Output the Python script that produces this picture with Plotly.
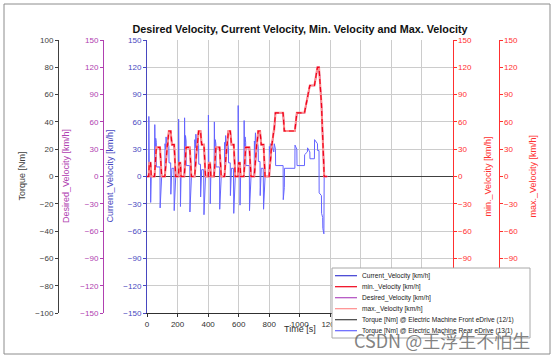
import plotly.graph_objects as go

W, H = 554, 358

# ---------------- data ----------------
# NEDC-like desired velocity profile (breakpoints)
time_s = [
    0, 11, 15, 23, 25, 28, 49, 54, 56, 61, 85, 93, 96, 117, 122, 124, 133, 135, 143, 155, 163, 176, 178, 185, 188,
    195, 206, 210, 218, 220, 223, 244, 249, 251, 256, 280, 288, 291, 312, 317, 319, 328, 330, 338, 350, 358, 371, 373, 380, 383,
    390, 401, 405, 413, 415, 418, 439, 444, 446, 451, 475, 483, 486, 507, 512, 514, 523, 525, 533, 545, 553, 566, 568, 575, 578,
    585, 596, 600, 608, 610, 613, 634, 639, 641, 646, 670, 678, 681, 702, 707, 709, 718, 720, 728, 740, 748, 761, 763, 770, 773,
    780, 800, 805, 807, 816, 818, 830, 832, 841, 891, 899, 968, 981, 1031, 1066, 1096, 1116, 1126, 1142, 1150, 1160, 1180,
]
desired_kmh = [
    0, 0, 15, 15, 10, 0, 0, 15, 15, 32, 32, 10, 0, 0, 15, 15, 35, 35, 50, 50, 35, 35, 35, 10, 0,
    0, 0, 15, 15, 10, 0, 0, 15, 15, 32, 32, 10, 0, 0, 15, 15, 35, 35, 50, 50, 35, 35, 35, 10, 0,
    0, 0, 15, 15, 10, 0, 0, 15, 15, 32, 32, 10, 0, 0, 15, 15, 35, 35, 50, 50, 35, 35, 35, 10, 0,
    0, 0, 15, 15, 10, 0, 0, 15, 15, 32, 32, 10, 0, 0, 15, 15, 35, 35, 50, 50, 35, 35, 35, 10, 0,
    0, 0, 15, 15, 35, 35, 50, 50, 70, 70, 50, 50, 70, 70, 100, 100, 120, 120, 80, 50, 0, 0,
]
# min / max / current velocity coincide with the desired profile at this resolution
min_kmh = list(desired_kmh)
max_kmh = list(desired_kmh)
current_kmh = list(desired_kmh)

torque_time_s = [
    0, 11, 12, 15, 23, 24, 28, 49, 51, 54, 57, 61, 62, 85, 86, 96, 117, 118, 122, 125, 133, 136, 143, 144, 155, 156, 163, 176, 178, 188,
    195, 206, 207, 210, 218, 219, 223, 244, 246, 249, 252, 256, 257, 280, 281, 291, 312, 313, 317, 320, 328, 331, 338, 339, 350, 351, 358, 371, 373, 383,
    390, 401, 402, 405, 413, 414, 418, 439, 441, 444, 447, 451, 452, 475, 476, 486, 507, 508, 512, 515, 523, 526, 533, 534, 545, 546, 553, 566, 568, 578,
    585, 596, 597, 600, 608, 609, 613, 634, 636, 639, 642, 646, 647, 670, 671, 681, 702, 703, 707, 710, 718, 721, 728, 729, 740, 741, 748, 761, 763, 773,
    780, 800, 801, 805, 808, 816, 819, 830, 833, 841, 842, 891, 892, 899, 900, 968, 969, 981, 982, 1031, 1032, 1050, 1051, 1066, 1067, 1096, 1097,
    1116, 1117, 1126, 1127, 1142, 1143, 1150, 1151, 1158, 1160, 1180,
]
torque_rear_nm = [
    0, 0, 44, 6, 6, -19, 0, 0, 38, 12, 28, 25, 7, 7, -23, 0, 0, 24, 20, 29, 18, 26, 22, 10, 10, -13, 6, 6, -25, 0,
    0, 0, 42, 5, 5, -22, 0, 0, 43, 14, 30, 26, 8, 8, -26, 0, 0, 27, 21, 31, 19, 25, 23, 9, 9, -15, 5, 5, -28, 0,
    0, 0, 45, 7, 7, -20, 0, 0, 40, 13, 27, 24, 7, 7, -24, 0, 0, 25, 19, 30, 17, 27, 21, 10, 10, -14, 6, 6, -27, 0,
    0, 0, 52, 6, 6, -21, 0, 0, 41, 12, 29, 25, 8, 8, -25, 0, 0, 26, 20, 32, 18, 26, 22, 11, 11, -14, 6, 6, -24, 0,
    0, 0, 22, 18, 24, 20, 22, 18, 24, 20, 8, 8, -17, -8, 6, 6, 23, 20, 8, 8, 16, 18, 21, 18, 13, 13, 27,
    24, 19, 19, -12, -14, -27, -30, -38, -42, 0, 0,
]
torque_front_time_s = [0, 1180]
torque_front_nm = [0, 0]

x_ticks = [0, 200, 400, 600, 800, 1000, 1200, 1400, 1600, 1800, 2000]

title_text = "Desired Velocity, Current Velocity, Min. Velocity and Max. Velocity"
legend_labels = [
    "Current_Velocity [km/h]",
    "min._Velocity [km/h]",
    "Desired_Velocity [km/h]",
    "max._Velocity [km/h]",
    "Torque [Nm] @ Electric Machine Front eDrive (12/1)",
    "Torque [Nm] @ Electric Machine Rear eDrive (13/1)",
]

# ---------------- styles ----------------
C_CUR = "#3c3cd2"
C_MIN = "#f00018"
C_DES = "#b04cc0"
C_MAX = "#ff8c8c"
C_TQF = "#404040"
C_TQR = "#6464ff"
C_AX_TQ = "#404040"
C_AX_DES = "#b040b0"
C_AX_CUR = "#4848c0"
C_AX_RED = "#ff3030"
FONT = "Liberation Sans"


def px(x):
    return x / W


def py(y):
    return 1 - y / H


# axes: y = current, y2 = torque, y3 = desired, y4 = max (outer right), y5 = min (inner right)
fig = go.Figure()
fig.add_trace(go.Scatter(x=torque_front_time_s, y=torque_front_nm, yaxis="y2", mode="lines",
                         line=dict(color=C_TQF, width=1), name=legend_labels[4]))
fig.add_trace(go.Scatter(x=torque_time_s, y=torque_rear_nm, yaxis="y2", mode="lines",
                         line=dict(color=C_TQR, width=1), name=legend_labels[5]))
fig.add_trace(go.Scatter(x=time_s, y=current_kmh, yaxis="y", mode="lines",
                         line=dict(color=C_CUR, width=1), name=legend_labels[0]))
fig.add_trace(go.Scatter(x=time_s, y=desired_kmh, yaxis="y3", mode="lines",
                         line=dict(color=C_DES, width=1.5), name=legend_labels[2]))
fig.add_trace(go.Scatter(x=time_s, y=max_kmh, yaxis="y4", mode="lines",
                         line=dict(color=C_MAX, width=2.1), name=legend_labels[3]))
fig.add_trace(go.Scatter(x=time_s, y=min_kmh, yaxis="y5", mode="lines",
                         line=dict(color=C_MIN, width=1.2, dash="5px,3px"), name=legend_labels[1]))

x_dom = [px(147), px(452.5)]
y_dom = [py(313), py(40)]

tickfont = lambda c: dict(family=FONT, size=8, color=c)
common_y = dict(domain=y_dom, showgrid=False, zeroline=False, showline=True, linewidth=1,
                ticks="outside", ticklen=3, automargin=False)

fig.update_layout(
    width=W, height=H, margin=dict(l=0, r=0, t=0, b=0),
    paper_bgcolor="white", plot_bgcolor="white", showlegend=False,
    title=dict(text=title_text, x=px(300), xanchor="center", y=py(29), yanchor="middle",
               font=dict(family=FONT, size=10.8, color="#111111", weight="bold")),
    xaxis=dict(domain=x_dom, range=[0, 2000], tickvals=x_ticks, showgrid=True, gridcolor="#cccccc",
               gridwidth=1, zeroline=False, showline=True, linecolor="#303030", linewidth=1.2,
               ticks="outside", ticklen=3, tickcolor="#303030", tickfont=tickfont("#303030"),
               anchor="y", automargin=False),
    yaxis=dict(common_y, range=[-150, 150], dtick=30, side="left", anchor="x",
               showgrid=True, gridcolor="#cccccc", gridwidth=1,
               zeroline=True, zerolinecolor="#404040", zerolinewidth=1,
               linecolor=C_AX_CUR, tickcolor=C_AX_CUR, tickfont=tickfont(C_AX_CUR)),
    yaxis2=dict(common_y, range=[-100, 100], dtick=20, side="left", anchor="free", overlaying="y",
                position=px(58), linecolor=C_AX_TQ, tickcolor=C_AX_TQ, tickfont=tickfont(C_AX_TQ)),
    yaxis3=dict(common_y, range=[-150, 150], dtick=30, side="left", anchor="free", overlaying="y",
                position=px(103), linecolor=C_AX_DES, tickcolor=C_AX_DES, tickfont=tickfont(C_AX_DES)),
    yaxis4=dict(common_y, range=[-150, 150], dtick=30, side="right", anchor="free", overlaying="y",
                position=px(498.5), linecolor=C_AX_RED, tickcolor=C_AX_RED, tickfont=tickfont(C_AX_RED)),
    yaxis5=dict(common_y, range=[-150, 150], dtick=30, side="right", anchor="free", overlaying="y",
                position=px(452.5), linecolor=C_AX_RED, tickcolor=C_AX_RED, tickfont=tickfont(C_AX_RED)),
)

annotations = []
shapes = []

# axis titles
axis_titles = [
    ("Torque [Nm]", 22, C_AX_TQ),
    ("Desired_Velocity [km/h]", 66.5, C_AX_DES),
    ("Current_Velocity [km/h]", 110, C_AX_CUR),
    ("min._Velocity [km/h]", 488, C_AX_RED),
    ("max._Velocity [km/h]", 533, C_AX_RED),
]
for txt, xc, col in axis_titles:
    annotations.append(dict(text=txt, x=px(xc), y=py(176.5), xref="paper", yref="paper",
                            xanchor="center", yanchor="middle", textangle=-90, showarrow=False,
                            font=dict(family=FONT, size=9, color=col)))
annotations.append(dict(text="Time [s]", x=px(300), y=py(329), xref="paper", yref="paper",
                        xanchor="center", yanchor="middle", showarrow=False,
                        font=dict(family=FONT, size=9, color="#303030")))

# outer frame
shapes.append(dict(type="rect", xref="paper", yref="paper", x0=px(4), x1=px(550), y0=py(354), y1=py(4),
                   line=dict(color="#8c8c8c", width=1), layer="below"))

# custom legend
shapes.append(dict(type="rect", xref="paper", yref="paper", x0=px(332), x1=px(530), y0=py(338), y1=py(268),
                   line=dict(color="#a8a8a8", width=1), fillcolor="white", layer="above"))
leg_colors = [C_CUR, C_MIN, C_DES, C_MAX, C_TQF, C_TQR]
for i, (lab, col) in enumerate(zip(legend_labels, leg_colors)):
    yc = 275.7 + i * 11
    shapes.append(dict(type="line", xref="paper", yref="paper", x0=px(335), x1=px(357), y0=py(yc), y1=py(yc),
                       line=dict(color=col, width=1.2), layer="above"))
    annotations.append(dict(text=lab, x=px(360), y=py(yc), xref="paper", yref="paper",
                            xanchor="left", yanchor="middle", showarrow=False,
                            font=dict(family=FONT, size=6.6, color="#202020")))

# watermark
annotations.append(dict(text="CSDN @王浮生不怕生", x=px(442), y=py(340), xref="paper", yref="paper",
                        xanchor="center", yanchor="middle", showarrow=False,
                        font=dict(family="Noto Sans CJK SC", size=18, color="rgba(90,90,90,0.75)")))

fig.update_layout(annotations=annotations, shapes=shapes)
fig.write_html("out.html", config={"displayModeBar": False},
               post_script="document.body.style.margin='0';document.body.style.overflow='hidden';")
